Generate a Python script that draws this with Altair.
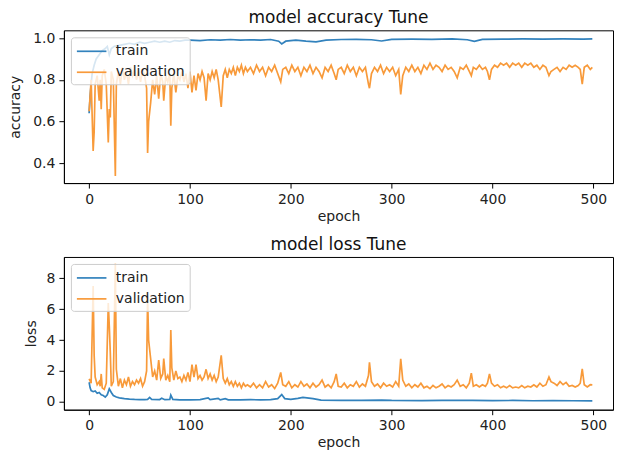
import altair as alt
import pandas as pd

# ---------------- data ----------------
val_epochs = [0, 2, 4, 5, 6, 8, 10, 11, 12, 13, 15, 17, 19, 20, 21, 22, 24, 26, 27, 29,
              31, 33, 35, 37, 39, 41, 43, 45, 47, 49, 51, 53, 55, 57, 58, 59, 61, 63, 65, 67,
              69, 71, 73, 74, 76, 78, 80, 81, 82, 84, 86, 88, 90, 92, 94, 96, 98, 100, 102, 104,
              106, 108, 110, 112, 114, 116, 118, 120, 122, 124, 126, 128, 131, 133, 135, 137, 139, 141, 143, 145,
              147, 149, 151, 153, 155, 157, 160, 163, 166, 169, 172, 175, 178, 181, 184, 187, 190, 192, 195, 198,
              201, 204, 207, 210, 213, 216, 219, 222, 225, 228, 231, 234, 237, 240, 243, 245, 247, 250, 253, 256,
              259, 262, 265, 268, 271, 274, 277, 278, 280, 283, 286, 289, 292, 295, 298, 301, 304, 307, 309, 311,
              314, 317, 320, 323, 326, 329, 332, 335, 338, 341, 344, 347, 350, 353, 356, 359, 362, 365, 368, 371,
              374, 377, 379, 381, 384, 387, 390, 393, 395, 397, 399, 402, 405, 408, 411, 414, 417, 420, 423, 426,
              429, 432, 435, 438, 441, 444, 447, 450, 453, 456, 458, 461, 464, 467, 470, 473, 476, 479, 482, 485,
              487, 489, 491, 494, 497, 499]

val_acc = [0.65, 0.80, 0.46, 0.55, 0.78, 0.82, 0.70, 0.80, 0.66, 0.82, 0.85, 0.78, 0.50, 0.66, 0.62, 0.84, 0.80, 0.34, 0.78, 0.84,
           0.78, 0.86, 0.80, 0.84, 0.78, 0.86, 0.82, 0.85, 0.80, 0.84, 0.79, 0.85, 0.82, 0.76, 0.45, 0.60, 0.69, 0.80, 0.73, 0.82,
           0.71, 0.83, 0.79, 0.70, 0.82, 0.79, 0.83, 0.58, 0.76, 0.83, 0.74, 0.82, 0.80, 0.84, 0.79, 0.83, 0.76, 0.84, 0.74, 0.82,
           0.75, 0.83, 0.80, 0.84, 0.81, 0.70, 0.83, 0.80, 0.84, 0.81, 0.85, 0.80, 0.67, 0.82, 0.85, 0.81, 0.85, 0.83, 0.86, 0.82,
           0.86, 0.84, 0.87, 0.83, 0.86, 0.84, 0.86, 0.83, 0.87, 0.84, 0.86, 0.82, 0.86, 0.84, 0.87, 0.83, 0.79, 0.85, 0.86, 0.83,
           0.87, 0.84, 0.86, 0.82, 0.86, 0.84, 0.87, 0.83, 0.86, 0.84, 0.81, 0.86, 0.84, 0.87, 0.83, 0.80, 0.85, 0.86, 0.83, 0.87,
           0.84, 0.86, 0.82, 0.86, 0.84, 0.86, 0.78, 0.76, 0.83, 0.86, 0.84, 0.87, 0.83, 0.86, 0.84, 0.86, 0.82, 0.85, 0.73, 0.82,
           0.86, 0.84, 0.87, 0.84, 0.86, 0.83, 0.87, 0.85, 0.88, 0.85, 0.87, 0.86, 0.84, 0.87, 0.85, 0.86, 0.84, 0.81, 0.86, 0.85,
           0.87, 0.84, 0.82, 0.86, 0.85, 0.87, 0.85, 0.86, 0.84, 0.80, 0.85, 0.87, 0.86, 0.88, 0.87, 0.88, 0.86, 0.88, 0.87, 0.88,
           0.86, 0.88, 0.87, 0.88, 0.86, 0.87, 0.85, 0.87, 0.86, 0.82, 0.84, 0.85, 0.86, 0.84, 0.86, 0.85, 0.87, 0.86, 0.87, 0.86,
           0.85, 0.78, 0.86, 0.87, 0.85, 0.86]

val_loss = [1.48, 1.20, 7.50, 3.00, 1.60, 1.10, 1.30, 1.00, 1.80, 0.90, 0.80, 1.20, 6.40, 4.90, 3.20, 1.00, 1.30, 8.95, 2.10, 1.00,
            1.50, 0.90, 1.40, 1.10, 1.60, 1.00, 1.30, 1.10, 1.40, 1.20, 1.50, 1.00, 1.30, 2.00, 6.80, 4.00, 2.80, 1.60, 2.00, 1.40,
            2.70, 1.50, 1.80, 2.80, 1.40, 1.70, 1.30, 4.65, 2.20, 1.40, 2.00, 1.50, 1.60, 1.30, 1.70, 1.40, 1.90, 1.30, 2.40, 1.60,
            2.40, 1.50, 1.70, 1.40, 1.60, 2.10, 1.50, 1.80, 1.40, 1.70, 1.30, 1.60, 3.00, 1.50, 1.20, 1.50, 1.10, 1.30, 1.00, 1.30,
            1.00, 1.20, 0.90, 1.20, 1.00, 1.10, 0.95, 1.20, 0.90, 1.10, 0.90, 1.30, 0.95, 1.10, 0.85, 1.20, 1.90, 1.10, 1.00, 1.30,
            0.90, 1.10, 0.95, 1.30, 1.00, 1.15, 0.90, 1.20, 0.95, 1.10, 1.40, 0.95, 1.10, 0.90, 1.30, 1.80, 1.00, 0.95, 1.20, 0.90,
            1.10, 1.00, 1.30, 0.95, 1.15, 1.00, 1.70, 2.55, 1.30, 1.00, 1.15, 0.90, 1.20, 1.00, 1.10, 0.95, 1.30, 1.00, 2.78, 1.40,
            1.00, 1.15, 0.90, 1.10, 0.95, 1.20, 0.90, 1.00, 0.85, 1.05, 0.90, 1.00, 1.15, 0.90, 1.05, 0.95, 1.10, 1.40, 1.00, 1.10,
            0.90, 1.20, 1.85, 1.00, 1.10, 0.95, 1.10, 1.00, 1.20, 1.80, 1.20, 1.00, 1.10, 0.90, 1.00, 0.90, 1.05, 0.90, 0.95, 0.90,
            1.05, 0.90, 1.00, 0.95, 1.10, 0.95, 1.20, 1.00, 1.10, 1.60, 1.30, 1.20, 1.05, 1.30, 1.10, 1.25, 1.00, 1.05, 0.95, 1.05,
            1.20, 2.13, 1.10, 0.95, 1.10, 1.09]

train_acc_epochs = [0, 1, 2, 3, 5, 7, 10, 13, 16, 18, 20, 22, 25, 30, 35, 40, 45, 50, 55, 60,
                    65, 70, 75, 80, 85, 90, 95, 100, 110, 120, 130, 140, 150, 160, 170, 180, 188, 191, 195, 205,
                    215, 225, 235, 250, 265, 280, 290, 300, 320, 340, 360, 375, 382, 390, 410, 430, 450, 470, 490, 499]
train_acc = [0.64, 0.72, 0.78, 0.83, 0.87, 0.90, 0.92, 0.94, 0.95, 0.96, 0.92, 0.95, 0.96, 0.965, 0.97, 0.975, 0.97, 0.98, 0.975, 0.98,
             0.985, 0.98, 0.985, 0.98, 0.988, 0.985, 0.99, 0.99, 0.988, 0.992, 0.99, 0.993, 0.99, 0.992, 0.99, 0.993, 0.985, 0.972, 0.985, 0.99,
             0.985, 0.982, 0.99, 0.993, 0.994, 0.992, 0.986, 0.994, 0.995, 0.994, 0.996, 0.992, 0.984, 0.994, 0.995, 0.996, 0.995, 0.996, 0.995, 0.996]

train_loss_epochs = [0, 1, 2, 4, 6, 8, 10, 12, 14, 16, 18, 20, 22, 24, 27, 30, 35, 40, 45, 50,
                     55, 58, 60, 62, 70, 72, 75, 80, 81, 83, 90, 100, 110, 118, 120, 128, 130, 135, 138, 150,
                     160, 170, 180, 187, 191, 194, 200, 207, 212, 216, 222, 230, 250, 270, 290, 300, 330, 350, 380, 400,
                     420, 440, 460, 480, 499]
train_loss = [1.26, 0.90, 0.72, 0.65, 0.70, 0.55, 0.60, 0.45, 0.40, 0.30, 0.45, 0.83, 0.60, 0.40, 0.30, 0.25, 0.20, 0.17, 0.15, 0.14,
              0.13, 0.15, 0.28, 0.15, 0.14, 0.22, 0.13, 0.15, 0.43, 0.15, 0.12, 0.12, 0.14, 0.25, 0.13, 0.22, 0.12, 0.20, 0.12, 0.12,
              0.13, 0.12, 0.14, 0.20, 0.46, 0.20, 0.15, 0.22, 0.28, 0.25, 0.20, 0.10, 0.08, 0.09, 0.10, 0.08, 0.07, 0.08, 0.09, 0.07,
              0.08, 0.06, 0.07, 0.06, 0.05]

series_names = ["train", "validation"]
series_colors = ["#3282bd", "#f89a3a"]
x_ticks = [0, 100, 200, 300, 400, 500]
acc_ticks = [0.4, 0.6, 0.8, 1.0]
loss_ticks = [0, 2, 4, 6, 8]

# ---------------- tables ----------------
acc_df = pd.concat([
    pd.DataFrame({"epoch": train_acc_epochs, "value": train_acc, "series": "train"}),
    pd.DataFrame({"epoch": val_epochs, "value": val_acc, "series": "validation"}),
])
loss_df = pd.concat([
    pd.DataFrame({"epoch": train_loss_epochs, "value": train_loss, "series": "train"}),
    pd.DataFrame({"epoch": val_epochs, "value": val_loss, "series": "validation"}),
])

FONT = "DejaVu Sans"
W, H = 550, 153
FS = 14

legend = alt.Legend(
    title=None, orient="top-left", offset=7, symbolType="M-1,0H2.7", symbolSize=256,
    symbolStrokeWidth=1.7, labelFontSize=FS, labelFont=FONT, labelColor="#222",
    fillColor="rgba(255,255,255,0.8)", strokeColor="#cccccc", cornerRadius=3,
    padding=5, rowPadding=5, labelOffset=22,
)


def panel(df, title, ytitle, ydomain, yticks, yfmt, title_pad):
    x = alt.X("epoch:Q", scale=alt.Scale(domain=[-25, 519.5], nice=False, zero=False),
              axis=alt.Axis(values=x_ticks, title="epoch", grid=False, format="d",
                            titlePadding=3))
    y = alt.Y("value:Q", scale=alt.Scale(domain=ydomain, nice=False, zero=False),
              axis=alt.Axis(values=yticks, title=ytitle, grid=False, format=yfmt,
                            titlePadding=title_pad))
    return alt.Chart(df).mark_line(strokeWidth=1.7, clip=True).encode(
        x=x, y=y,
        color=alt.Color("series:N", scale=alt.Scale(domain=series_names, range=series_colors),
                        legend=legend),
        order=alt.Order("epoch:Q"),
    ).properties(
        width=W, height=H,
        title=alt.TitleParams(title, fontSize=17, font=FONT, fontWeight="normal",
                              color="#111", anchor="middle", frame="group", offset=3),
    )


top = panel(acc_df, "model accuracy Tune", "accuracy", [0.306, 1.037], acc_ticks, ".1f", 10)
bottom = panel(loss_df, "model loss Tune", "loss", [-0.52, 9.39], loss_ticks, "d", 8)

chart = alt.vconcat(top, bottom, spacing=11).resolve_scale(color="independent").resolve_legend(
    color="independent"
).properties(
    padding={"left": 0, "top": 0, "right": 0, "bottom": 0}
).configure(
    background="white"
).configure_view(
    stroke="black", strokeWidth=1
).configure_axis(
    domainColor="black", tickColor="black", tickSize=5, labelPadding=4,
    labelFontSize=FS, labelFont=FONT, labelColor="#222",
    titleFontSize=FS, titleFont=FONT, titleFontWeight="normal", titleColor="#222",
)

chart.save("out.html", embed_options={"renderer": "svg", "actions": False})
